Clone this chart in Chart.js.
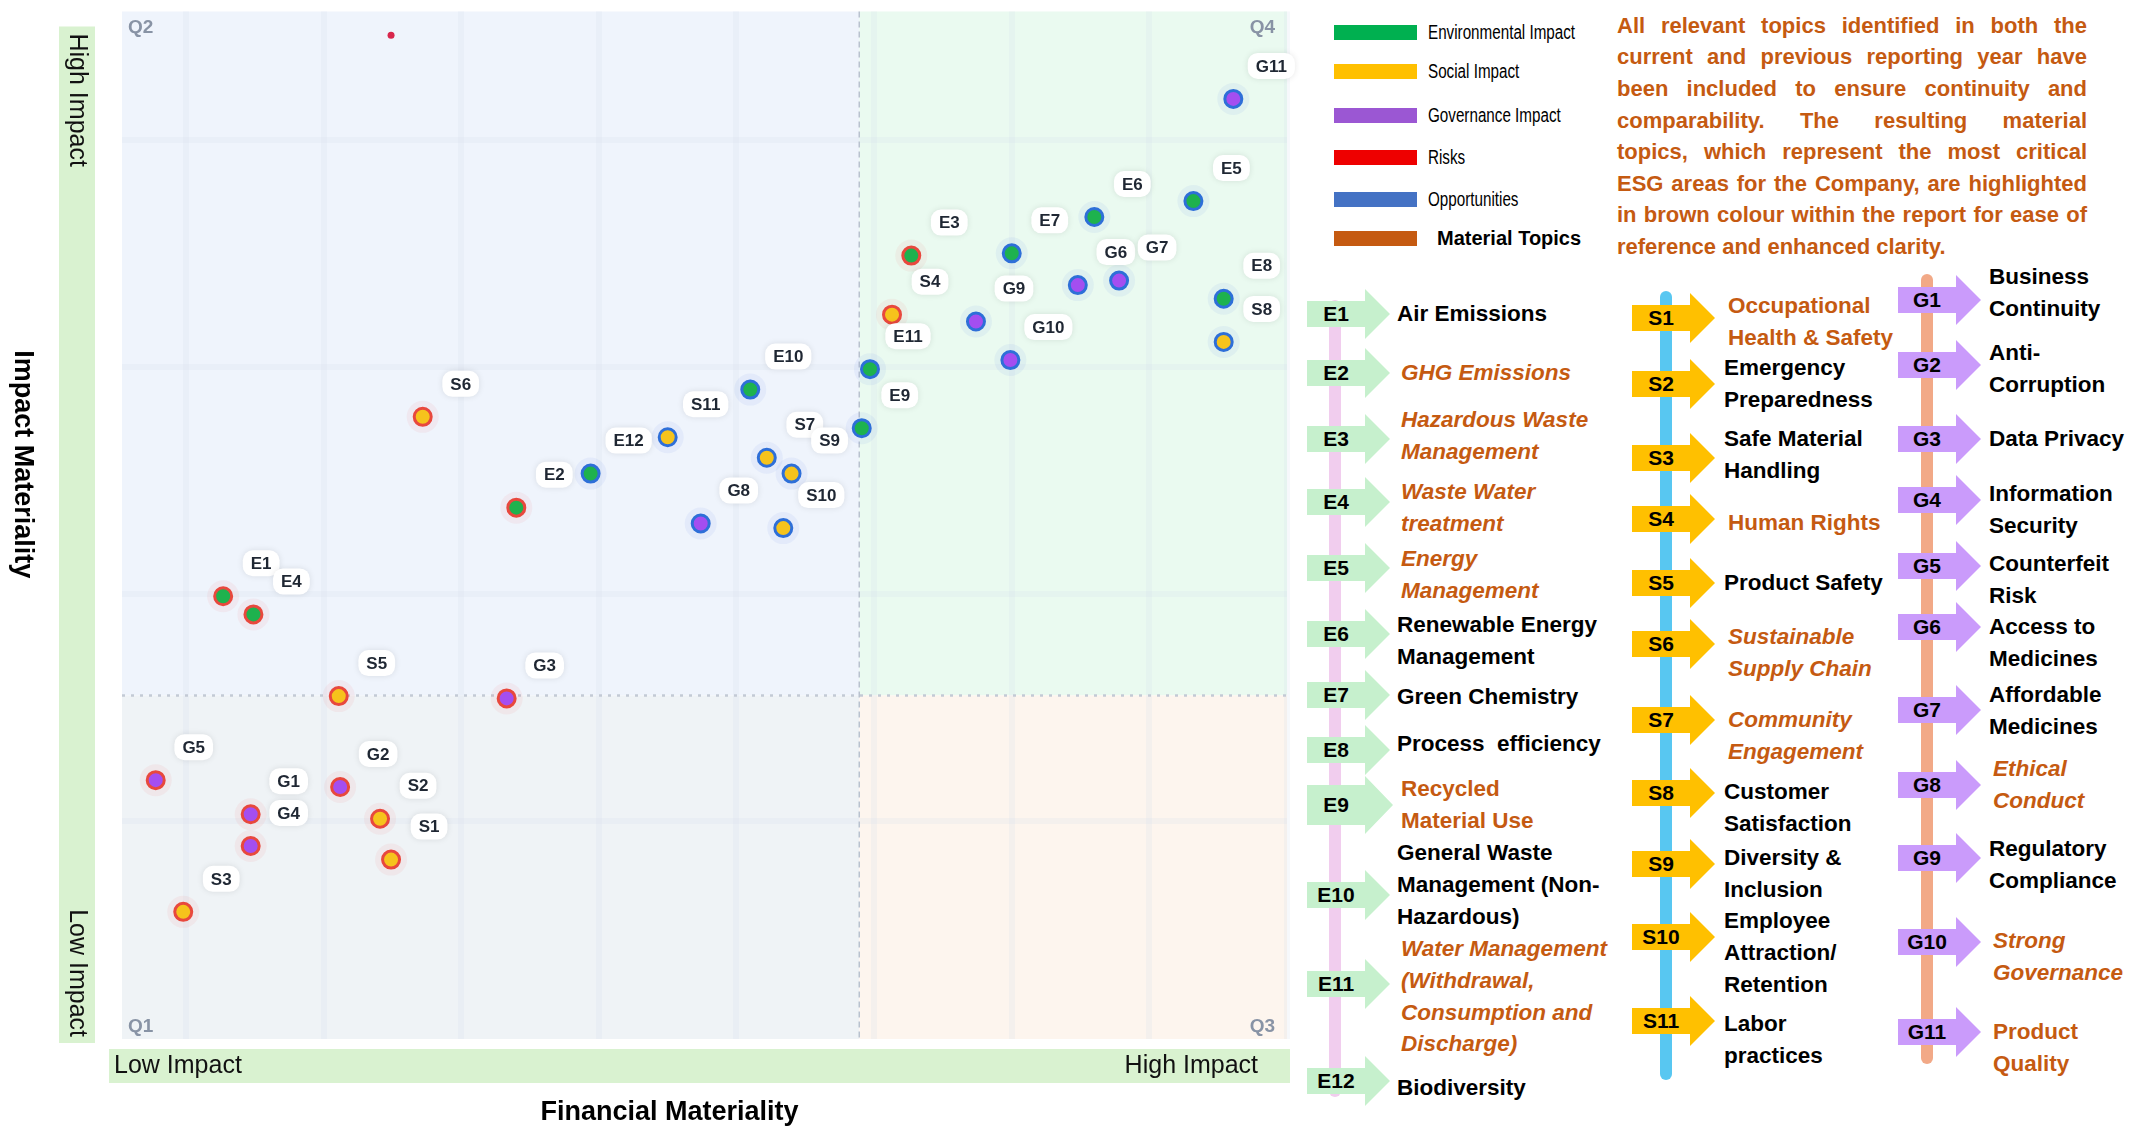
<!DOCTYPE html>
<html><head><meta charset="utf-8">
<script src="https://cdn.jsdelivr.net/npm/chart.js@4.4.1/dist/chart.umd.min.js"></script>
<style>
html,body{margin:0;padding:0;background:#fff;}
#wrap{position:relative;width:2129px;height:1129px;overflow:hidden;font-family:'Liberation Sans',Arial,sans-serif;}
#c{position:absolute;left:0;top:0;}
.abs{position:absolute;white-space:pre;}
.arrow{position:absolute;width:83px;}
.arrow .lab{position:absolute;left:0;top:0;width:58px;height:100%;display:flex;align-items:center;justify-content:center;font-weight:bold;font-size:21px;color:#000;}
.topic{position:absolute;font-weight:bold;font-size:22.5px;line-height:31.8px;color:#000;white-space:pre;}
.para{position:absolute;left:1617px;width:470px;font-weight:bold;font-size:22px;line-height:31.6px;color:#c55a11;text-align:justify;text-align-last:justify;}
</style></head>
<body><div id="wrap"><canvas id="c" width="1300" height="1129"></canvas></div>
<script>
// ---------------- DATA ----------------
const envCodes = ['E1','E2','E3','E4','E5','E6','E7','E8','E9','E10','E11','E12'];
const envFinancial = [1.27, 3.40, 6.27, 1.49, 8.32, 7.60, 7.00, 8.54, 5.91, 5.10, 5.97, 3.94];
const envImpact    = [1.99, 2.38, 3.49, 1.91, 3.73, 3.66, 3.50, 3.30, 2.73, 2.90, 2.99, 2.53];
const envType = ['Risk','Risk','Risk','Risk','Opp','Opp','Opp','Opp','Opp','Opp','Opp','Opp'];

const socCodes = ['S1','S2','S3','S4','S5','S6','S7','S8','S9','S10','S11'];
const socFinancial = [2.49, 2.41, 0.98, 6.13, 2.11, 2.72, 5.22, 8.54, 5.40, 5.34, 4.50];
const socImpact    = [0.83, 1.01, 0.60, 3.23, 1.55, 2.78, 2.60, 3.11, 2.53, 2.29, 2.69];
const socType = ['Risk','Risk','Risk','Risk','Risk','Risk','Opp','Opp','Opp','Opp','Opp'];

const govCodes = ['G1','G2','G3','G4','G5','G6','G7','G8','G9','G10','G11'];
const govFinancial = [1.47, 2.12, 3.33, 1.47, 0.78, 7.48, 7.78, 4.74, 6.74, 6.99, 8.61];
const govImpact    = [1.03, 1.15, 1.54, 0.89, 1.18, 3.36, 3.38, 2.31, 3.20, 3.03, 4.18];
const govType = ['Risk','Risk','Risk','Risk','Risk','Opp','Opp','Opp','Opp','Opp','Opp'];

const riskMarkerFinancial = [2.49];
const riskMarkerImpact = [4.46];

const xTicks = [1,2,3,4,5,6,7,8,9];
const yTicks = [1,2,3,4];
const xRange = [0.535, 9];
const yRange = [0.04, 4.565];
const quadrantFinancial = 5.892;
const quadrantImpact = 1.553;

const quadrantNames = ['Q2','Q4','Q1','Q3'];
const axisLow = 'Low Impact', axisHigh = 'High Impact';
const yTitle = 'Impact Materiality', xTitle = 'Financial Materiality';

const legendLabels = ['Environmental Impact','Social Impact','Governance Impact','Risks','Opportunities','Material Topics'];
const legendColors = ['#00b050','#ffc000','#9b57d3','#ee0000','#4472c4','#c55a11'];

const paragraphLines = [
 'All relevant topics identified in both the',
 'current and previous reporting year have',
 'been included to ensure continuity and',
 'comparability.  The  resulting  material',
 'topics, which represent the most critical',
 'ESG areas for the Company, are highlighted',
 'in brown colour within the report for ease of',
 'reference and enhanced clarity.'
];

const envTopics = ['Air Emissions','GHG Emissions','Hazardous Waste\nManagement','Waste Water\ntreatment','Energy\nManagement','Renewable Energy\nManagement','Green Chemistry','Process  efficiency','Recycled\nMaterial Use','General Waste\nManagement (Non-\nHazardous)','Water Management\n(Withdrawal,\nConsumption and\nDischarge)','Biodiversity'];
const socTopics = ['Occupational\nHealth & Safety','Emergency\nPreparedness','Safe Material\nHandling','Human Rights','Product Safety','Sustainable\nSupply Chain','Community\nEngagement','Customer\nSatisfaction','Diversity &\nInclusion','Employee\nAttraction/\nRetention','Labor\npractices'];
const govTopics = ['Business\nContinuity','Anti-\nCorruption','Data Privacy','Information\nSecurity','Counterfeit\nRisk','Access to\nMedicines','Affordable\nMedicines','Ethical\nConduct','Regulatory\nCompliance','Strong\nGovernance','Product\nQuality'];
const materialCodes = ['E2','E3','E4','E5','E9','E11','S1','S4','S6','S7','G8','G10','G11'];

// ---------------- STYLE / LAYOUT ----------------
const FILL = {E:'#1eb24e', S:'#f6c31c', G:'#a44ef0'};
const EDGE = {Risk:'#e8483d', Opp:'#2e6fd8'};
const HALO = {Risk:'rgba(240,90,90,0.07)', Opp:'rgba(70,120,230,0.07)'};
const ITALIC = ['E2','E3','E4','E5','E11','S6','S7','G8','G10'];
const BIG_ARROW = ['E9'];
const COL = {
  E:{arrowX:1307, textX:1397, color:'#c6f0cd', line:'#f1cdee', lineX:1335, lineTop:300, lineBot:1097,
     arrowY:[314,373,439,502,568,634,695,750,805,895,984,1081],
     textY:[314,373,420,492,559,625,697,744,789,853,949,1088]},
  S:{arrowX:1632, textX:1724, color:'#ffc000', line:'#58c7f1', lineX:1666, lineTop:291, lineBot:1080,
     arrowY:[318,384,458,519,583,644,720,793,864,937,1021],
     textY:[306,368,439,523,583,637,720,792,858,921,1024]},
  G:{arrowX:1898, textX:1989, color:'#ca9bfb', line:'#f2a987', lineX:1927, lineTop:274, lineBot:1064,
     arrowY:[300,365,439,500,566,627,710,785,858,942,1032],
     textY:[277,353,439,494,564,627,695,769,849,941,1032]}
};

// ---------------- CHART ----------------
function makeDataset(codes, fx, iy, types, fill){
  return {
    data: fx.map((v,i)=>({x:v, y:iy[i]})),
    codes: codes, types: types,
    pointRadius: 8.5, pointHoverRadius: 8.5, pointBorderWidth: 3,
    pointBackgroundColor: fill,
    pointBorderColor: types.map(t=>EDGE[t]),
    showLine: false
  };
}
const datasets = [
  makeDataset(envCodes, envFinancial, envImpact, envType, FILL.E),
  makeDataset(socCodes, socFinancial, socImpact, socType, FILL.S),
  makeDataset(govCodes, govFinancial, govImpact, govType, FILL.G),
  { data: riskMarkerFinancial.map((v,i)=>({x:v, y:riskMarkerImpact[i]})), pointRadius:3.5, pointBorderWidth:0,
    pointBackgroundColor:'#d8264c', showLine:false }
];

const plugin = {
  id:'materiality',
  beforeDraw(chart){
    const {ctx, chartArea:a, scales:{x,y}} = chart;
    const qx = x.getPixelForValue(quadrantFinancial), qy = y.getPixelForValue(quadrantImpact);
    ctx.save();
    ctx.fillStyle='#fff'; ctx.fillRect(0,0,chart.width,chart.height);
    ctx.fillStyle='#eff4fc'; ctx.fillRect(a.left,a.top,qx-a.left,qy-a.top);
    ctx.fillStyle='#eafaf0'; ctx.fillRect(qx,a.top,a.right-qx,qy-a.top);
    ctx.fillStyle='#eff3f6'; ctx.fillRect(a.left,qy,qx-a.left,a.bottom-qy);
    ctx.fillStyle='#fdf5ee'; ctx.fillRect(qx,qy,a.right-qx,a.bottom-qy);
    ctx.fillStyle='#d9f2d0';
    ctx.fillRect(a.left-63, a.top+15, 36, a.bottom-a.top-11);
    ctx.fillRect(a.left-13, a.bottom+10, a.right-a.left+16, 34);
    ctx.restore();
  },
  beforeDatasetsDraw(chart){
    const {ctx, chartArea:a, scales:{x,y}} = chart;
    const qx = x.getPixelForValue(quadrantFinancial), qy = y.getPixelForValue(quadrantImpact);
    ctx.save();
    ctx.strokeStyle='#b9c2cf'; ctx.lineWidth=1.5; ctx.setLineDash([6,4]);
    ctx.beginPath(); ctx.moveTo(qx,a.top); ctx.lineTo(qx,a.bottom); ctx.stroke();
    ctx.strokeStyle='#c3cad5'; ctx.lineWidth=2.5; ctx.setLineDash([3,6]);
    ctx.beginPath(); ctx.moveTo(a.left,qy); ctx.lineTo(a.right,qy); ctx.stroke();
    ctx.setLineDash([]);
    for(let d=0; d<3; d++){
      const meta = chart.getDatasetMeta(d), ds = chart.data.datasets[d];
      meta.data.forEach((p,i)=>{
        ctx.fillStyle = HALO[ds.types[i]];
        ctx.beginPath(); ctx.arc(p.x,p.y,16,0,Math.PI*2); ctx.fill();
      });
    }
    ctx.restore();
  },
  afterDatasetsDraw(chart){
    const {ctx} = chart;
    ctx.save();
    ctx.font = 'bold 17px "Liberation Sans"';
    ctx.textAlign='center'; ctx.textBaseline='middle';
    for(let d=0; d<3; d++){
      const meta = chart.getDatasetMeta(d), ds = chart.data.datasets[d];
      meta.data.forEach((p,i)=>{
        const t = ds.codes[i];
        const w = ctx.measureText(t).width + 16, h = 26;
        const cx = p.x + 38, cy = p.y - 33;
        ctx.shadowColor='rgba(0,0,0,0.10)'; ctx.shadowBlur=6;
        ctx.fillStyle='#ffffff';
        ctx.beginPath(); ctx.roundRect(cx-w/2, cy-h/2, w, h, 10); ctx.fill();
        ctx.shadowColor='transparent'; ctx.shadowBlur=0;
        ctx.fillStyle='#1f2733';
        ctx.fillText(t, cx, cy+1);
      });
    }
    ctx.restore();
  },
  afterDraw(chart){
    const {ctx, chartArea:a} = chart;
    ctx.save();
    ctx.font='bold 19px "Liberation Sans"'; ctx.fillStyle='#8893a5'; ctx.textBaseline='middle';
    ctx.textAlign='left';
    ctx.fillText(quadrantNames[0], a.left+6, a.top+16);
    ctx.fillText(quadrantNames[2], a.left+6, a.bottom-12);
    ctx.textAlign='right';
    ctx.fillText(quadrantNames[1], a.right-12, a.top+16);
    ctx.fillText(quadrantNames[3], a.right-12, a.bottom-12);
    ctx.font='25px "Liberation Sans"'; ctx.fillStyle='#111';
    ctx.save(); ctx.translate(a.left-45, a.top+22); ctx.rotate(Math.PI/2);
    ctx.textAlign='left'; ctx.fillText(axisHigh,0,0); ctx.restore();
    ctx.save(); ctx.translate(a.left-45, a.bottom-2); ctx.rotate(Math.PI/2);
    ctx.textAlign='right'; ctx.fillText(axisLow,0,0); ctx.restore();
    ctx.textAlign='left'; ctx.fillText(axisLow, a.left-8, a.bottom+27);
    ctx.textAlign='right'; ctx.fillText(axisHigh, a.right-29, a.bottom+27);
    ctx.font='bold 27px "Liberation Sans"'; ctx.fillStyle='#000'; ctx.textAlign='center';
    ctx.save(); ctx.translate(22, (a.top+a.bottom)/2 - 61); ctx.rotate(Math.PI/2);
    ctx.fillText(yTitle,0,0); ctx.restore();
    ctx.fillText(xTitle, (a.left+a.right)/2 - 35, a.bottom+74);
    ctx.restore();
  }
};

new Chart(document.getElementById('c'), {
  type:'scatter',
  data:{datasets},
  options:{
    responsive:false, animation:false, events:[],
    layout:{padding:{left:122, top:7, right:13, bottom:90}},
    plugins:{legend:{display:false}, tooltip:{enabled:false}},
    scales:{
      x:{type:'linear', min:xRange[0], max:xRange[1],
         afterBuildTicks:s=>{s.ticks = xTicks.map(v=>({value:v}));},
         ticks:{display:false}, border:{display:false},
         grid:{color:'rgba(214,222,236,0.22)', lineWidth:6, drawTicks:false}},
      y:{type:'linear', min:yRange[0], max:yRange[1],
         afterBuildTicks:s=>{s.ticks = yTicks.map(v=>({value:v}));},
         ticks:{display:false}, border:{display:false},
         grid:{color:'rgba(214,222,236,0.22)', lineWidth:6, drawTicks:false}}
    }
  },
  plugins:[plugin]
});

// ---------------- RIGHT PANEL ----------------
const wrap = document.getElementById('wrap');
function add(cls, css, text){
  const d = document.createElement('div');
  d.className = cls; d.style.cssText = css;
  if(text!==undefined) d.textContent = text;
  wrap.appendChild(d); return d;
}
const legendY = [32,71,115,157,199,238];
legendLabels.forEach((lab,i)=>{
  add('abs', `left:1334px;top:${legendY[i]-7.5}px;width:83px;height:15px;background:${legendColors[i]};`);
  if(i===5){
    add('abs', `left:1437px;top:${legendY[i]-15}px;line-height:30px;font-size:20px;font-weight:bold;color:#000;`, lab);
  } else {
    add('abs', `left:1428px;top:${legendY[i]-15}px;line-height:30px;font-size:19.5px;color:#000;transform:scaleX(0.78);transform-origin:0 50%;`, lab);
  }
});
paragraphLines.forEach((ln,i)=>{
  const last = i===paragraphLines.length-1;
  add('para', `top:${25.5+i*31.6-15.8}px;${last?'text-align:left;text-align-last:left;':''}`, ln);
});
const columns = [['E',envCodes,envTopics],['S',socCodes,socTopics],['G',govCodes,govTopics]];
columns.forEach(([k,codes,topics])=>{
  const c = COL[k];
  add('abs', `left:${c.lineX-6}px;top:${c.lineTop}px;width:12px;height:${c.lineBot-c.lineTop}px;border-radius:6px;background:${c.line};`);
  codes.forEach((code,i)=>{
    const big = BIG_ARROW.includes(code);
    const H = big ? 58 : 50, B = big ? 40 : 26, W = big ? 86 : 83;
    const a = add('arrow', `left:${c.arrowX}px;top:${c.arrowY[i]-H/2}px;height:${H}px;width:${W}px;`);
    const t0 = (H-B)/2, t1 = (H+B)/2;
    a.innerHTML = `<div style="position:absolute;inset:0;background:${c.color};clip-path:polygon(0px ${t0}px,58px ${t0}px,58px 0px,${W}px ${H/2}px,58px ${H}px,58px ${t1}px,0px ${t1}px);"></div>`;
    const l = document.createElement('div'); l.className='lab'; l.textContent=code; a.appendChild(l);
    const mat = materialCodes.includes(code), it = ITALIC.includes(code);
    add('topic', `left:${c.textX + (mat?4:0)}px;top:${c.textY[i]-15.9}px;color:${mat?'#c55a11':'#000'};font-style:${it?'italic':'normal'};`, topics[i]);
  });
});
</script>
</body></html>
